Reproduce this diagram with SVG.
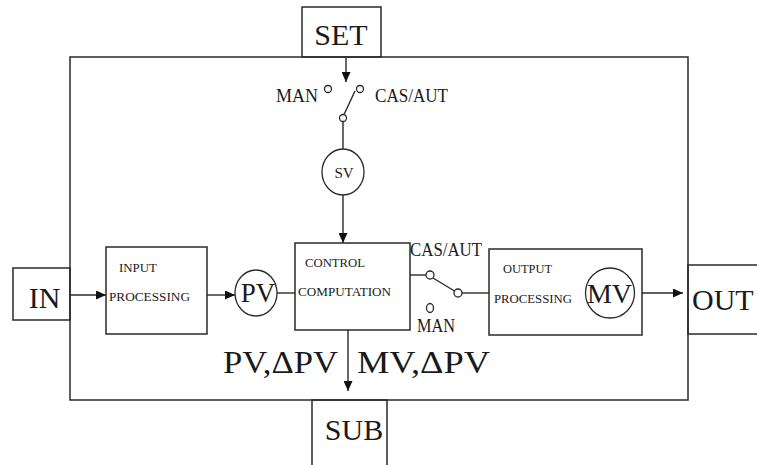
<svg xmlns="http://www.w3.org/2000/svg" width="757" height="465" viewBox="0 0 757 465">
<style>
.b{fill:none;stroke:#2a2a2a;stroke-width:1.5}
.c{fill:#fff;stroke:#2a2a2a;stroke-width:1.3}
.l{fill:none;stroke:#2a2a2a;stroke-width:1.4}
.t{font-family:"Liberation Serif","Times New Roman",serif;fill:#1a1a1a}
.s{font-family:"Liberation Serif","Times New Roman",serif;fill:#1a1a1a;font-size:13.5px}
</style>
<defs>
<marker id="ah" markerUnits="userSpaceOnUse" markerWidth="10" markerHeight="9" refX="10" refY="4.5" orient="auto">
<path d="M0,0 L10,4.5 L0,9 z" fill="#111"/>
</marker>
</defs>
<rect width="757" height="465" fill="#fff"/>
<g id="outer"><rect class="b" x="70" y="57" width="618" height="343"/></g>
<g id="set"><rect class="b" x="302" y="7" width="79" height="50"/><text class="t" x="341" y="45" font-size="30" text-anchor="middle">SET</text></g>
<g id="in"><rect class="b" x="13" y="268" width="57" height="52"/><text class="t" x="44.5" y="308" font-size="30" text-anchor="middle">IN</text></g>
<g id="out"><rect class="b" x="688" y="265" width="100" height="69"/><text class="t" x="692" y="310" font-size="30">OUT</text></g>
<g id="sub"><rect class="b" x="312" y="400" width="75" height="80"/><text class="t" x="354" y="440" font-size="30" text-anchor="middle">SUB</text></g>
<g id="input-processing"><rect class="b" x="106" y="247" width="101" height="87"/>
<text class="s" x="119" y="272" textLength="38" lengthAdjust="spacingAndGlyphs">INPUT</text>
<text class="s" x="109" y="301" textLength="81" lengthAdjust="spacingAndGlyphs">PROCESSING</text></g>
<g id="pv"><ellipse class="c" cx="256" cy="293" rx="21" ry="23"/><text class="t" x="258" y="302" font-size="27" text-anchor="middle">PV</text></g>
<g id="control-computation"><rect class="b" x="295" y="243" width="115" height="87"/>
<text class="s" x="305" y="267" textLength="60" lengthAdjust="spacingAndGlyphs">CONTROL</text>
<text class="s" x="298" y="296" textLength="93" lengthAdjust="spacingAndGlyphs">COMPUTATION</text></g>
<g id="sv"><ellipse class="c" cx="343" cy="172" rx="21" ry="23"/><text class="t" x="344" y="178" font-size="15" text-anchor="middle">SV</text></g>
<g id="output-processing"><rect class="b" x="489" y="249" width="153" height="86"/>
<text class="s" x="503" y="273" textLength="49" lengthAdjust="spacingAndGlyphs">OUTPUT</text>
<text class="s" x="494" y="303" textLength="78" lengthAdjust="spacingAndGlyphs">PROCESSING</text>
<ellipse class="c" cx="610" cy="293" rx="24.5" ry="25"/><text class="t" x="609.5" y="303" font-size="28" text-anchor="middle">MV</text></g>
<g id="switch-set">
<text class="t" x="276" y="102" font-size="18" textLength="42" lengthAdjust="spacingAndGlyphs">MAN</text>
<text class="t" x="375" y="102" font-size="18" textLength="73" lengthAdjust="spacingAndGlyphs">CAS/AUT</text>
<circle class="c" cx="328" cy="89" r="3.5"/><circle class="c" cx="360" cy="89" r="3.5"/><circle class="c" cx="343" cy="118" r="3.5"/>
<line class="l" x1="344" y1="114.5" x2="355" y2="91"/>
</g>
<g id="switch-out">
<text class="t" x="410" y="256" font-size="18" textLength="72" lengthAdjust="spacingAndGlyphs">CAS/AUT</text>
<text class="t" x="417" y="332" font-size="18" textLength="38" lengthAdjust="spacingAndGlyphs">MAN</text>
<circle class="c" cx="430" cy="275" r="4"/><circle class="c" cx="458" cy="293" r="4"/><ellipse class="c" cx="430" cy="308" rx="3.5" ry="4.5"/>
<line class="l" x1="433" y1="278" x2="454.5" y2="291"/>
</g>
<g id="connectors">
<line class="l" x1="346" y1="57" x2="346" y2="82" marker-end="url(#ah)"/>
<line class="l" x1="343" y1="121.5" x2="343" y2="149"/>
<line class="l" x1="343" y1="195" x2="343" y2="243" marker-end="url(#ah)"/>
<line class="l" x1="70" y1="295" x2="106" y2="295" marker-end="url(#ah)"/>
<line class="l" x1="207" y1="295" x2="235" y2="295" marker-end="url(#ah)"/>
<line class="l" x1="277" y1="293" x2="295" y2="293"/>
<line class="l" x1="410" y1="275" x2="426" y2="275"/>
<line class="l" x1="462" y1="293" x2="489" y2="293"/>
<line class="l" x1="642" y1="293" x2="683" y2="293" marker-end="url(#ah)"/>
<line class="l" x1="348" y1="330" x2="348" y2="391" marker-end="url(#ah)"/>
</g>
<g id="labels">
<text class="t" x="223" y="373" font-size="31" textLength="115" lengthAdjust="spacingAndGlyphs">PV,ΔPV</text>
<text class="t" x="357" y="373" font-size="31" textLength="133" lengthAdjust="spacingAndGlyphs">MV,ΔPV</text>
</g>
</svg>
